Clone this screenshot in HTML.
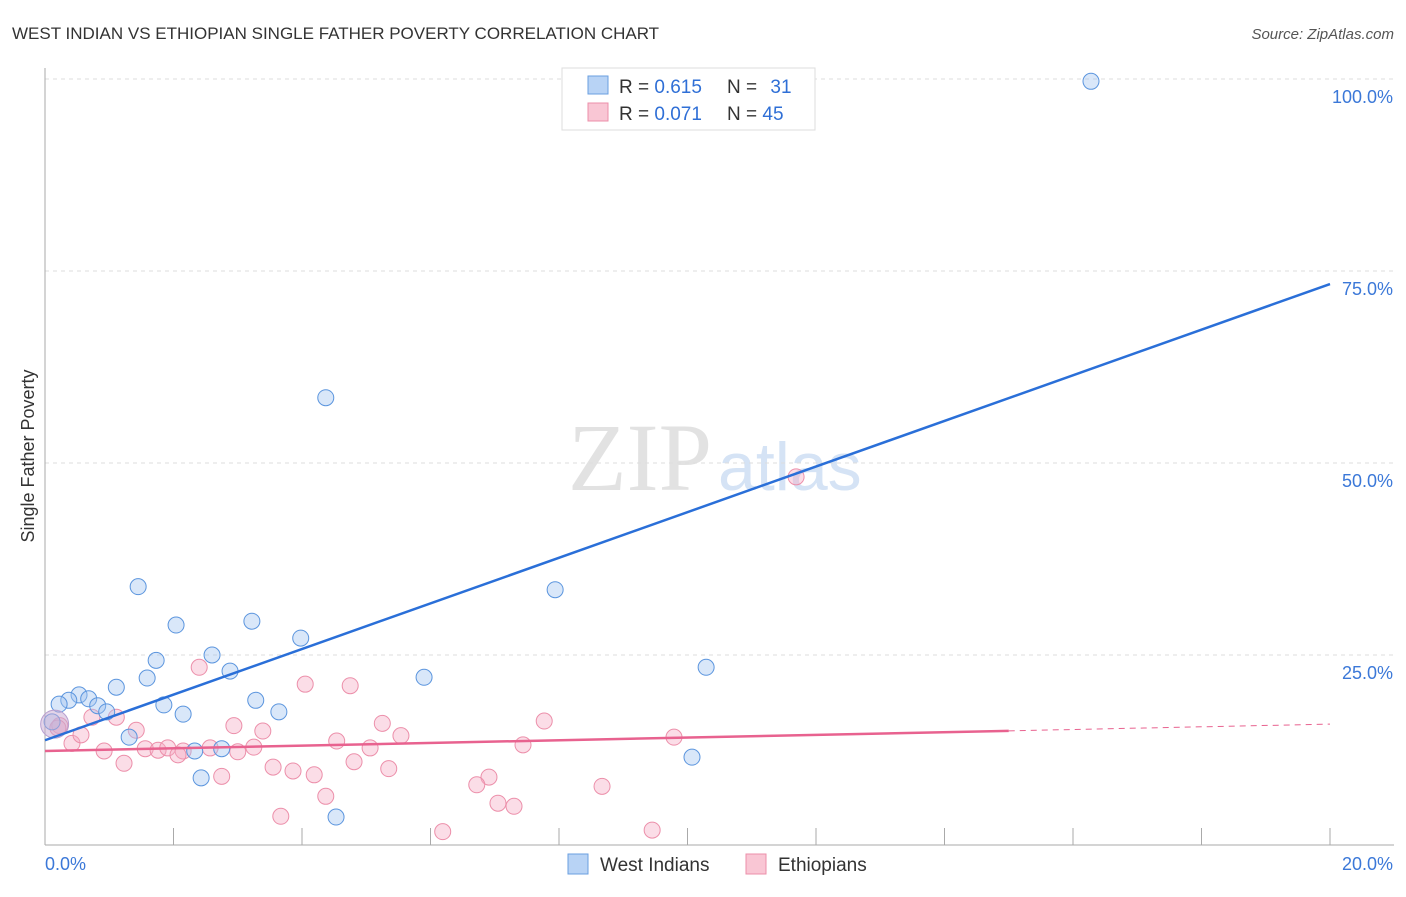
<!DOCTYPE html>
<html><head><meta charset="utf-8"><style>
body{margin:0;background:#fff;font-family:"Liberation Sans",sans-serif;}
svg text{font-family:"Liberation Sans",sans-serif;}
</style></head><body>
<svg width="1406" height="892">
<text x="12" y="39" font-size="17" fill="#333">WEST INDIAN VS ETHIOPIAN SINGLE FATHER POVERTY CORRELATION CHART</text>
<text x="1394" y="39" font-size="15" fill="#555" text-anchor="end" font-style="italic">Source: ZipAtlas.com</text>
<text x="712" y="490" font-size="96" fill="#e2e2e2" text-anchor="end" style="font-family:'Liberation Serif',serif">ZIP</text>
<text x="718" y="490" font-size="68" fill="#d5e3f5">atlas</text>
<g id="grid"></g>
<g id="axes"></g>
<g id="marks"></g>
<text x="34" y="456" font-size="18" fill="#333" text-anchor="middle" transform="rotate(-90 34 456)">Single Father Poverty</text>
<g>
<rect x="562" y="68" width="253" height="62" fill="#fff" stroke="#ddd"/>
<rect x="588" y="76" width="20" height="18" fill="#b8d3f5" stroke="#6a9fe0"/>
<rect x="588" y="103" width="20" height="18" fill="#f9c6d4" stroke="#ec8faa"/>
<text x="619" y="93" font-size="19" fill="#333">R = <tspan fill="#2f6fd6">0.615</tspan></text>
<text x="727" y="93" font-size="19" fill="#333">N = <tspan fill="#2f6fd6" dx="8">31</tspan></text>
<text x="619" y="120" font-size="19" fill="#333">R = <tspan fill="#2f6fd6">0.071</tspan></text>
<text x="727" y="120" font-size="19" fill="#333">N = <tspan fill="#2f6fd6">45</tspan></text>
</g>
<g>
<rect x="568" y="854" width="20" height="20" fill="#b8d3f5" stroke="#6a9fe0"/>
<text x="600" y="871" font-size="19" fill="#333">West Indians</text>
<rect x="746" y="854" width="20" height="20" fill="#f9c6d4" stroke="#ec8faa"/>
<text x="778" y="871" font-size="19" fill="#333">Ethiopians</text>
</g>
</svg>
<script>
const blueX=[16.28,4.37,1.45,7.94,2.04,3.22,3.98,1.73,2.60,10.29,2.88,1.59,5.90,1.11,0.53,0.68,0.37,0.22,0.82,1.85,3.28,0.96,2.15,3.64,1.31,0.11,2.33,2.75,10.07,2.43,4.53];
const blueY=[99.7,58.5,33.9,33.5,28.9,29.4,27.2,24.3,25.0,23.4,22.9,22.0,22.1,20.8,19.8,19.3,19.1,18.6,18.4,18.5,19.1,17.6,17.3,17.6,14.3,16.3,12.5,12.8,11.7,9.0,3.9];
const pinkX=[11.69,2.40,4.05,4.75,0.73,1.11,1.42,2.94,3.39,5.25,7.77,0.23,0.42,0.56,0.92,1.23,1.56,1.76,1.91,2.15,2.07,2.57,3.00,3.25,4.54,5.06,5.54,7.44,9.79,2.75,3.55,3.86,4.19,4.81,5.35,6.91,6.72,7.05,7.30,8.67,4.37,3.67,6.19,9.45,0.20];
const pinkY=[48.2,23.4,21.2,21.0,16.9,16.9,15.2,15.8,15.1,16.1,16.4,15.8,13.5,14.6,12.5,10.9,12.8,12.6,12.9,12.5,12.0,12.9,12.4,13.0,13.8,12.9,14.5,13.3,14.3,9.2,10.4,9.9,9.4,11.1,10.2,9.1,8.1,5.7,5.3,7.9,6.6,4.0,2.0,2.2,15.5];
const blueTrend=[13.9,73.3];
const pinkTrend=[12.5,16.0];
const yTicks=[25,50,75,100];
const yTickLabels=["25.0%","50.0%","75.0%","100.0%"];
const xTicks=[0,2,4,6,8,10,12,14,16,18,20];
const NS="http://www.w3.org/2000/svg";
const sx=v=>45+v*64.25, sy=v=>847-v*7.68;
function mk(t,a,p){const e=document.createElementNS(NS,t);for(const k in a)e.setAttribute(k,a[k]);p.appendChild(e);return e;}
const grid=document.getElementById('grid'),axes=document.getElementById('axes'),marks=document.getElementById('marks');
yTicks.forEach((v,i)=>{
 const l=mk('line',{x1:45,x2:1394,y1:sy(v),y2:sy(v),stroke:'#ddd','stroke-dasharray':'4,4'},grid);
 
 
 const t=mk('text',{x:1393,y:sy(v)+24,'font-size':18,fill:'#3b78d8','text-anchor':'end'},axes);
 t.textContent=yTickLabels[i];
 
 
});
mk('line',{x1:45,x2:45,y1:68,y2:845,stroke:'#aaa'},axes);
mk('line',{x1:45,x2:1394,y1:845,y2:845,stroke:'#aaa'},axes);
xTicks.forEach(v=>{
 const l=mk('line',{x1:sx(v),x2:sx(v),y1:828,y2:845,stroke:'#aaa'},axes);
 
 
});
let t0=mk('text',{x:45,y:870,'font-size':18,fill:'#3b78d8'},axes);t0.textContent='0.0%';


let t1=mk('text',{x:1393,y:870,'font-size':18,fill:'#3b78d8','text-anchor':'end'},axes);t1.textContent='20.0%';


pinkX.forEach((x,i)=>{
 const c=mk('circle',{cx:sx(x),cy:sy(pinkY[i]),r:8,fill:'rgba(246,170,195,0.4)',stroke:'#ec8faa','stroke-width':1},marks);
 
 
});
blueX.forEach((x,i)=>{
 const c=mk('circle',{cx:sx(x),cy:sy(blueY[i]),r:8,fill:'rgba(160,196,240,0.4)',stroke:'#5b95de','stroke-width':1},marks);
 
 
});
const big=mk('circle',{cx:sx(0.15),cy:sy(16.0),r:14,fill:'rgba(200,170,210,0.5)',stroke:'#b9a0d0'},marks);


const bl=mk('line',{x1:sx(0),y1:sy(blueTrend[0]),x2:sx(20),y2:sy(blueTrend[1]),stroke:'#2a6fd8','stroke-width':2.5},marks);


const pm=pinkTrend[0]+(pinkTrend[1]-pinkTrend[0])*0.75;
const pl=mk('line',{x1:sx(0),y1:sy(pinkTrend[0]),x2:sx(15),y2:sy(pm),stroke:'#e8628f','stroke-width':2.5},marks);


const pd=mk('line',{x1:sx(15),y1:sy(pm),x2:sx(20),y2:sy(pinkTrend[1]),stroke:'#e8628f','stroke-width':1,'stroke-dasharray':'6,5'},marks);


</script>
</body></html>
